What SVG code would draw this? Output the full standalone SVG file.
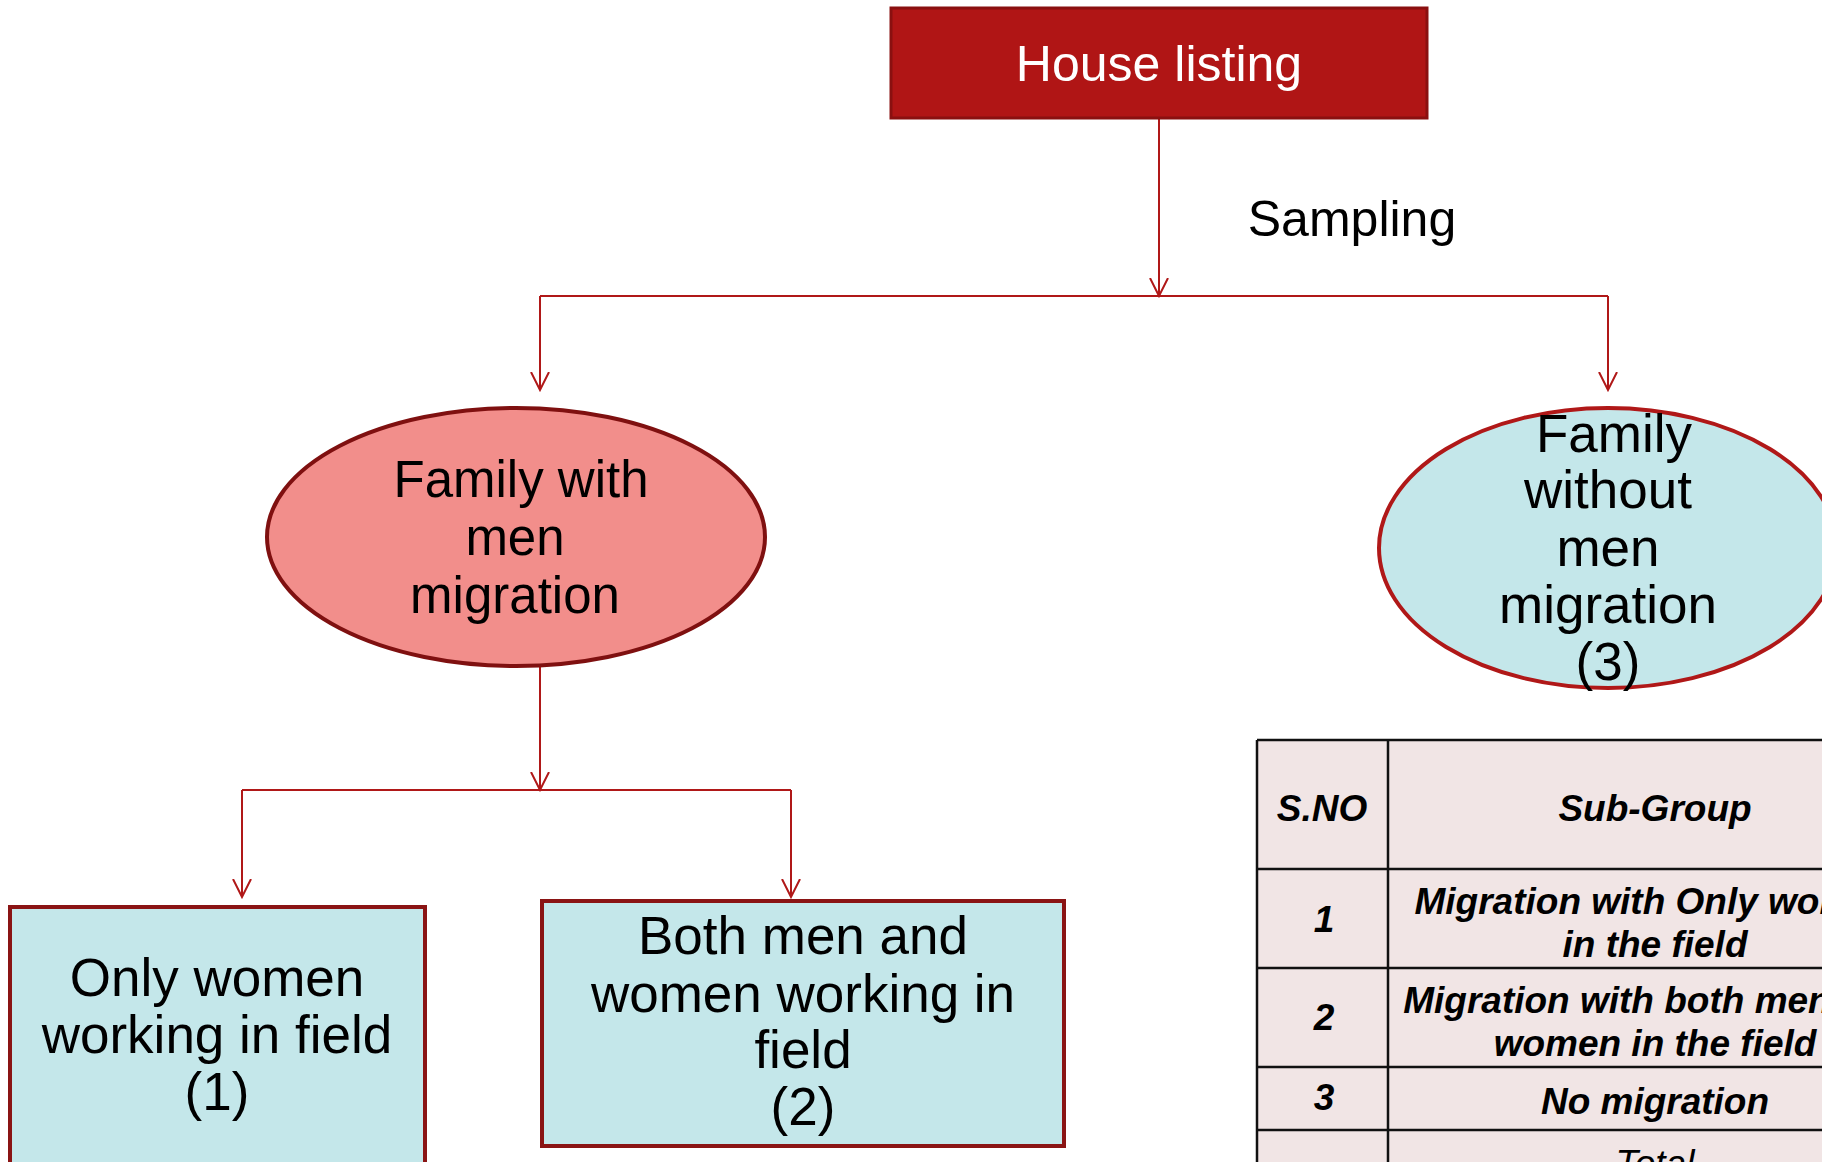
<svg xmlns="http://www.w3.org/2000/svg" width="1822" height="1162" viewBox="0 0 1822 1162">
  <defs>
    <marker id="arr" viewBox="0 0 20 20" refX="18" refY="10" markerWidth="20" markerHeight="20" markerUnits="userSpaceOnUse" orient="auto">
      <path d="M0,1 L18,10 L0,19" fill="none" stroke="#B01818" stroke-width="2"/>
    </marker>
    <style>
      .t { font-family: "Liberation Sans", Arial, sans-serif; font-size: 50px; text-anchor: middle; fill: #000; }
      .e { font-size: 51px; }
      .b { font-size: 53px; }
      .w { fill: #fff; }
      .c { fill: none; stroke: #B01818; stroke-width: 2; }
      .ca { fill: none; stroke: #B01818; stroke-width: 2; marker-end: url(#arr); }
      .box { fill: #C4E7EA; stroke: #8A1414; stroke-width: 4; }
      .tb { font-family: "Liberation Sans", Arial, sans-serif; font-size: 37px; font-weight: bold; font-style: italic; text-anchor: middle; fill: #000; }
      .tbl { fill: none; stroke: #111; stroke-width: 2.5; }
    </style>
  </defs>
  <rect width="1822" height="1162" fill="#fff"/>

  <g id="connectors">
    <line class="ca" x1="1159" y1="118" x2="1159" y2="296"/>
    <polyline class="c" points="540,296 1608,296"/>
    <line class="ca" x1="540" y1="296" x2="540" y2="390"/>
    <line class="ca" x1="1608" y1="296" x2="1608" y2="390"/>
    <line class="ca" x1="540" y1="666" x2="540" y2="790"/>
    <polyline class="c" points="242,790 791,790"/>
    <line class="ca" x1="242" y1="790" x2="242" y2="897"/>
    <line class="ca" x1="791" y1="790" x2="791" y2="897"/>
    <text class="t" x="1352" y="236">Sampling</text>
  </g>

  <g id="house-listing">
    <rect x="891" y="8" width="536" height="110" fill="#B01515" stroke="#8A1010" stroke-width="3"/>
    <text class="t w" x="1159" y="81">House listing</text>
  </g>

  <g id="family-with">
    <ellipse cx="516" cy="537" rx="249" ry="129" fill="#F28E8B" stroke="#7F1010" stroke-width="4"/>
    <text class="t e" x="521" y="497">Family with</text>
    <text class="t e" x="515" y="555">men</text>
    <text class="t e" x="515" y="613">migration</text>
  </g>

  <g id="family-without">
    <ellipse cx="1608" cy="548" rx="229" ry="140" fill="#C4E7EA" stroke="#B01818" stroke-width="4"/>
    <text class="t b" x="1614" y="452">Family</text>
    <text class="t b" x="1608" y="508">without</text>
    <text class="t b" x="1608" y="566">men</text>
    <text class="t b" x="1608" y="623">migration</text>
    <text class="t b" x="1608" y="680">(3)</text>
  </g>

  <g id="only-women">
    <rect x="10" y="907" width="415" height="270" class="box"/>
    <text class="t b" x="217" y="996">Only women</text>
    <text class="t b" x="217" y="1053">working in field</text>
    <text class="t b" x="217" y="1110">(1)</text>
  </g>

  <g id="both">
    <rect x="542" y="901" width="522" height="245" class="box"/>
    <text class="t b" x="803" y="954">Both men and</text>
    <text class="t b" x="803" y="1012">women working in</text>
    <text class="t b" x="803" y="1068">field</text>
    <text class="t b" x="803" y="1125">(2)</text>
  </g>

  <g id="table">
    <rect x="1257" y="740" width="680" height="450" fill="#F1E5E5"/>
    <line class="tbl" x1="1257" y1="740" x2="1837" y2="740"/>
    <line class="tbl" x1="1257" y1="740" x2="1257" y2="1170"/>
    <line class="tbl" x1="1388" y1="740" x2="1388" y2="1170"/>
    <line class="tbl" x1="1257" y1="869" x2="1837" y2="869"/>
    <line class="tbl" x1="1257" y1="968" x2="1837" y2="968"/>
    <line class="tbl" x1="1257" y1="1067" x2="1837" y2="1067"/>
    <line class="tbl" x1="1257" y1="1130" x2="1837" y2="1130"/>
    <text class="tb" x="1322" y="821">S.NO</text>
    <text class="tb" x="1655" y="821">Sub-Group</text>
    <text class="tb" x="1324" y="932">1</text>
    <text class="tb" x="1655" y="914">Migration with Only women</text>
    <text class="tb" x="1655" y="957">in the field</text>
    <text class="tb" x="1324" y="1030">2</text>
    <text class="tb" x="1655" y="1013">Migration with both men and</text>
    <text class="tb" x="1655" y="1056">women in the field</text>
    <text class="tb" x="1324" y="1110">3</text>
    <text class="tb" x="1655" y="1114">No migration</text>
    <text class="tb" x="1655" y="1176" style="font-weight:normal">Total</text>
  </g>
</svg>
